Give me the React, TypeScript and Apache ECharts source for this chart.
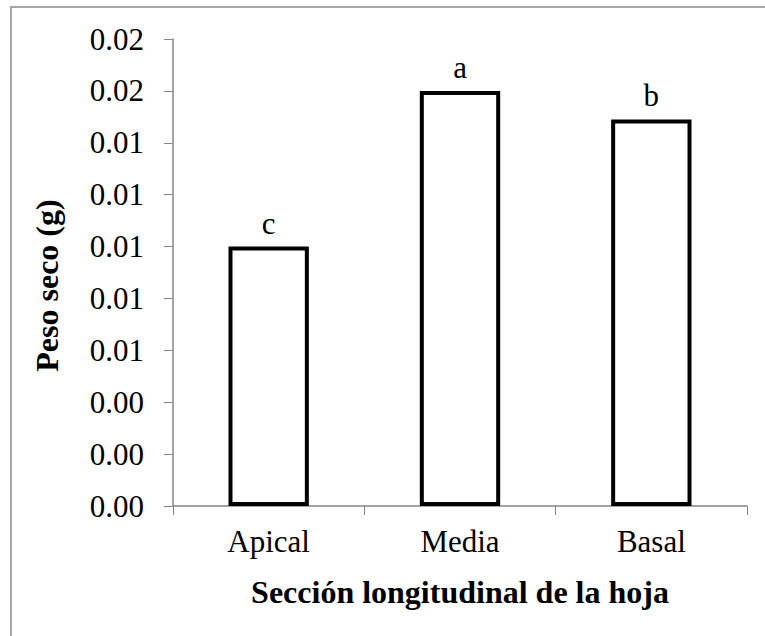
import React, { useEffect, useRef } from "react";
import * as echarts from "echarts";

const categories = ["Apical", "Media", "Basal"];
const values = [0.01, 0.016, 0.0149];
const letters = ["c", "a", "b"];
const yTitle = "Peso seco (g)";
const xTitle = "Sección longitudinal de la hoja";

const FONT = "Liberation Serif";

export default function App() {
  const ref = useRef<HTMLDivElement>(null);
  useEffect(() => {
    const chart = echarts.init(ref.current!, null, { renderer: "svg" });
    chart.setOption({
      animation: false,
      backgroundColor: "#ffffff",
      textStyle: { fontFamily: FONT },
      graphic: [
        {
          type: "rect",
          shape: { x: 11, y: 7, width: 800, height: 700 },
          style: { fill: "none", stroke: "#a6a6a6", lineWidth: 2 },
          silent: true,
        },
      ],
      grid: { left: 173, right: 18, top: 39, bottom: 130 },
      xAxis: {
        type: "category",
        data: categories,
        axisLine: { lineStyle: { color: "#868686", width: 1.5 } },
        axisTick: { show: true, length: 9, alignWithLabel: false, lineStyle: { color: "#868686" } },
        axisLabel: { color: "#000", fontFamily: FONT, fontSize: 31, margin: 20 },
        name: xTitle,
        nameLocation: "middle",
        nameGap: 70,
        nameTextStyle: { color: "#000", fontFamily: FONT, fontSize: 32, fontWeight: "bold" },
      },
      yAxis: {
        type: "value",
        min: 0,
        max: 0.018,
        interval: 0.002,
        splitLine: { show: false },
        axisLine: { show: true, lineStyle: { color: "#868686", width: 1.5 } },
        axisTick: { show: true, length: 9, lineStyle: { color: "#868686" } },
        axisLabel: {
          color: "#000",
          fontFamily: FONT,
          fontSize: 31,
          margin: 29,
          formatter: (v: number) => v.toFixed(2),
        },
        name: yTitle,
        nameLocation: "middle",
        nameGap: 110,
        nameRotate: 90,
        nameTextStyle: {
          color: "#000",
          fontFamily: FONT,
          fontSize: 32,
          fontWeight: "bold",
          padding: [0, 26, 0, 0],
        },
      },
      series: [
        {
          type: "bar",
          data: values,
          barWidth: "42%",
          itemStyle: { color: "#ffffff", borderColor: "#000000", borderWidth: 4 },
          label: {
            show: true,
            position: "top",
            distance: 8,
            color: "#000",
            fontFamily: FONT,
            fontSize: 31,
            formatter: (p: any) => letters[p.dataIndex],
          },
        },
      ],
    });
    return () => chart.dispose();
  }, []);
  return (
    <div
      ref={ref}
      style={{ position: "fixed", left: 0, top: 0, width: 765, height: 636, background: "#fff" }}
    />
  );
}
